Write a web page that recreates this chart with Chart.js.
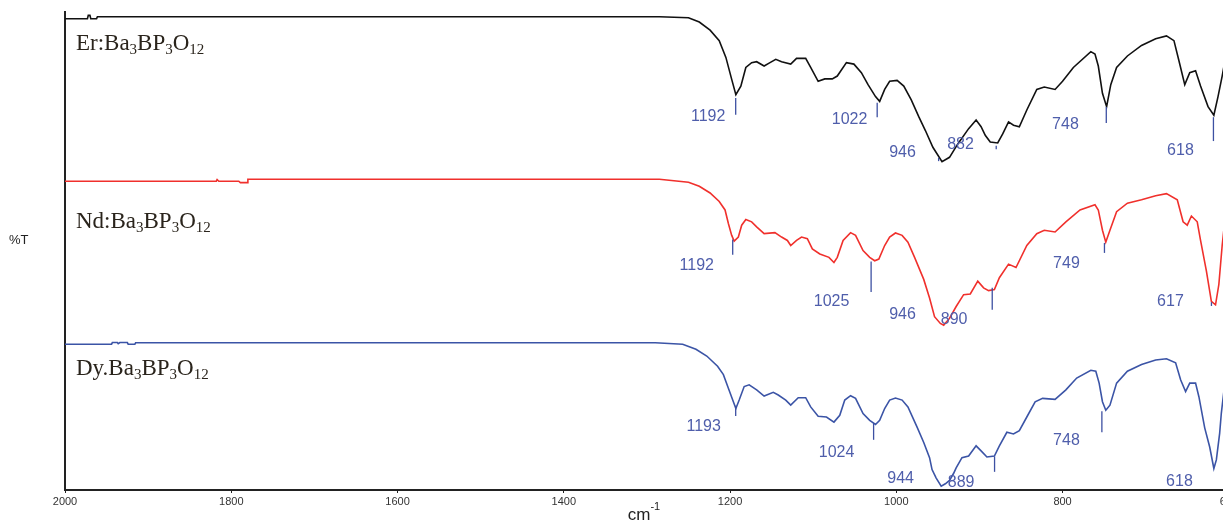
<!DOCTYPE html>
<html>
<head>
<meta charset="utf-8">
<script src="https://cdn.jsdelivr.net/npm/chart.js@4.4.1/dist/chart.umd.min.js"></script>
<style>
html,body{margin:0;padding:0;background:#fff;}
#wrap{width:1223px;height:521px;position:relative;}
</style>
</head>
<body>
<div id="wrap"><canvas id="c" width="1223" height="521"></canvas></div>
<script>
// ---- data (wavenumber cm-1, %T offset units) ----
const xTicks = [2000,1800,1600,1400,1200,1000,800,600];

const wnEr = [2000,1973,1972,1970,1969,1962,1961,1285,1250,1237,1224,1213,1205,1198,1193,1187,1181,1174,1168,1159,1153,1145,1138,1127,1120,1109,1103,1094,1086,1077,1071,1060,1051,1042,1034,1025,1020,1014,1008,999,991,982,973,965,956,945,936,926,913,904,898,893,887,878,872,865,859,852,843,831,822,809,800,787,766,761,757,752,747,742,735,722,705,688,675,666,660,653,647,640,634,625,618,613,608,605];
const tEr = [98.6,98.6,99.3,99.3,98.6,98.6,99.0,99.0,98.8,97.9,96.2,94.0,90.5,85.9,82.7,84.5,88.4,89.4,89.6,88.7,89.3,90.1,89.6,89.1,90.3,90.3,88.4,85.5,86.0,86.0,86.6,89.4,89.1,87.3,84.8,82.3,81.3,83.8,85.5,85.7,84.5,81.6,78.1,75.2,71.7,68.7,69.6,72.4,75.6,77.4,76.0,74.2,72.8,72.6,74.5,77.0,76.3,76.0,79.5,83.8,84.3,83.8,85.5,88.4,91.7,91.2,88.7,83.0,80.2,84.8,88.4,90.8,93.0,94.4,95.0,94.0,89.8,84.8,87.3,87.7,84.5,80.2,78.4,82.3,86.6,89.5];

const wnNd = [2000,1818,1817,1815,1791,1789,1781,1780,1285,1250,1237,1224,1213,1206,1202,1198,1195,1190,1186,1181,1174,1168,1159,1146,1138,1131,1127,1120,1114,1107,1101,1092,1081,1075,1071,1064,1055,1049,1040,1032,1026,1021,1014,1008,1001,993,986,978,967,960,954,947,943,936,928,919,911,902,895,889,882,876,865,856,843,831,822,809,796,779,761,757,752,748,743,735,722,705,688,675,662,655,650,645,638,634,627,621,616,612,608,605];
const tNd = [64.6,64.6,64.95,64.6,64.6,64.3,64.3,65.0,65.0,64.4,63.55,62.14,60.36,58.59,55.76,53.27,52.07,52.92,55.4,56.6,56.1,55.05,53.63,53.84,52.92,52.21,51.15,52.21,52.92,52.57,50.44,49.38,48.67,47.6,48.67,52.21,53.84,53.27,50.08,48.67,47.96,48.31,51.15,52.92,53.77,53.27,51.86,48.67,44.06,40.16,36.26,34.84,34.49,35.9,38.39,40.87,41.01,43.7,42.29,41.72,41.93,44.41,47.25,46.54,51.15,53.63,54.34,53.98,56.11,58.59,59.66,58.59,54.34,51.86,54.34,58.24,60.01,60.72,61.57,62.0,60.72,56.11,55.4,57.32,56.11,52.21,45.83,39.45,38.74,42.99,51.15,56.0];

const wnDy = [2000,1944,1943,1937,1936,1934,1925,1924,1916,1915,1290,1257,1241,1228,1215,1208,1202,1196,1193,1189,1183,1177,1168,1159,1148,1142,1133,1127,1118,1109,1103,1094,1084,1075,1068,1062,1055,1049,1040,1032,1025,1020,1014,1008,1001,993,986,975,967,960,957,952,946,941,936,931,928,921,913,904,898,891,882,876,867,859,852,843,833,824,809,796,783,766,760,756,752,748,743,735,722,705,688,675,664,658,652,647,640,636,629,623,618,615,611,609,605];
const tDy = [30.5,30.5,30.85,30.85,30.6,30.85,30.85,30.5,30.5,30.8,30.8,30.5,29.45,28.03,25.9,24.13,21.29,18.46,17.04,18.81,21.65,22.0,20.94,19.66,20.44,19.87,18.81,17.75,19.31,19.31,17.39,15.41,15.27,14.2,15.62,18.81,19.73,19.17,15.98,14.56,13.71,14.56,17.04,18.81,19.24,18.81,17.39,13.14,9.95,6.76,4.28,2.5,0.8,1.3,2.0,3.5,4.63,6.76,7.11,9.24,8.18,6.9,7.11,9.24,12.08,11.72,12.43,15.27,18.46,19.17,18.95,20.94,23.42,25.05,24.84,22.36,18.46,16.68,17.75,22.36,24.84,26.26,27.18,27.46,26.61,23.07,20.58,22.36,22.36,19.52,13.0,9.0,4.5,6.3,11.9,16.1,22.0];

const peaksEr = ['1192','1022','946','882','748','618'];
const peaksNd = ['1192','1025','946','890','749','617'];
const peaksDy = ['1193','1024','944','889','748','618'];

const sampleNames = [
  [['Er:Ba',0],['3',1],['BP',0],['3',1],['O',0],['12',1]],
  [['Nd:Ba',0],['3',1],['BP',0],['3',1],['O',0],['12',1]],
  [['Dy.Ba',0],['3',1],['BP',0],['3',1],['O',0],['12',1]]
];

// ---- annotation placement (data coords: label x, label y, tick x, tick top, tick bottom) ----
const posEr = [[1226.3,78.2,1193.2,82.0,78.5],[1056.2,77.4,1023,81.0,78.0],[992.5,70.6,949.1,69.5,68.8],[922.7,72.2,879.8,72.0,71.3],[796.5,76.4,747.4,80.1,76.8],[658.2,71.1,618.5,78.0,73.0]];
const posNd = [[1240,46.9,1196.8,52.4,49.2],[1077.8,39.4,1030.3,47.8,41.4],[992.5,36.6,null],[930.5,35.6,884.6,42.3,37.7],[795.3,47.3,749.6,51.7,49.6],[670.2,39.4,620.9,39.3,38.5]];
const posDy = [[1231.7,13.2,1193.2,17.6,15.5],[1071.8,7.9,1027.3,14.0,10.5],[994.8,2.3,null],[922.0,1.6,881.8,7.0,3.8],[795.3,10.25,752.7,16.5,12.1],[659.4,1.7,null]];
const namePos = [[1986.8,92.05],[1986.8,54.8],[1986.8,24.06]];

const toXY = (xs, ys) => xs.map((x,i)=>({x:x, y:ys[i]}));

const annotPlugin = {
  id:'annot',
  afterDraw(chart){
    const ctx = chart.ctx, xs = chart.scales.x, ys = chart.scales.y, ca = chart.chartArea;
    ctx.save();
    // peak labels
    const groups = [[peaksEr,posEr],[peaksNd,posNd],[peaksDy,posDy]];
    ctx.font = '16px "Liberation Sans", Arial, sans-serif';
    ctx.textAlign = 'center'; ctx.textBaseline = 'middle';
    groups.forEach(([txt,pos])=>{
      txt.forEach((t,i)=>{
        const p = pos[i];
        ctx.fillStyle = '#4f5eab';
        ctx.fillText(t, xs.getPixelForValue(p[0]), ys.getPixelForValue(p[1]));
        if(p[2]!==null && p[2]!==undefined){
          ctx.strokeStyle = '#3d50a2'; ctx.lineWidth = 1.3;
          ctx.beginPath();
          const px = xs.getPixelForValue(p[2]);
          ctx.moveTo(px, ys.getPixelForValue(p[3]));
          ctx.lineTo(px, ys.getPixelForValue(p[4]));
          ctx.stroke();
        }
      });
    });
    // sample names
    ctx.textAlign = 'left'; ctx.textBaseline = 'alphabetic';
    ctx.fillStyle = '#2a241c';
    sampleNames.forEach((parts,k)=>{
      let x = xs.getPixelForValue(namePos[k][0]);
      const y = ys.getPixelForValue(namePos[k][1]);
      parts.forEach(([s,sub])=>{
        ctx.font = sub ? '15px "Liberation Serif", "Times New Roman", serif' : '23px "Liberation Serif", "Times New Roman", serif';
        ctx.fillText(s, x, y + (sub?4:0));
        x += ctx.measureText(s).width;
      });
    });
    // y label
    ctx.fillStyle = '#222';
    ctx.font = '13px "Liberation Sans", Arial, sans-serif';
    ctx.textAlign = 'left'; ctx.textBaseline = 'middle';
    ctx.fillText('%T', 9, (ca.top+ca.bottom)/2 - 11);
    // x title cm-1
    const cx = (ca.left+ca.right)/2;
    ctx.font = '17px "Liberation Sans", Arial, sans-serif';
    ctx.textBaseline = 'alphabetic';
    const w1 = ctx.measureText('cm').width;
    ctx.font = '11px "Liberation Sans", Arial, sans-serif';
    const w2 = ctx.measureText('-1').width;
    const sx = cx - (w1+w2)/2;
    ctx.font = '17px "Liberation Sans", Arial, sans-serif';
    ctx.fillText('cm', sx, 520);
    ctx.font = '11px "Liberation Sans", Arial, sans-serif';
    ctx.fillText('-1', sx + w1, 510);
    ctx.restore();
  }
};

new Chart(document.getElementById('c'), {
  type:'line',
  data:{
    datasets:[
      {label:'Er', data:toXY(wnEr,tEr), borderColor:'#111', borderWidth:1.6},
      {label:'Nd', data:toXY(wnNd,tNd), borderColor:'#f0302c', borderWidth:1.6},
      {label:'Dy', data:toXY(wnDy,tDy), borderColor:'#3b54a6', borderWidth:1.6}
    ]
  },
  options:{
    responsive:false, animation:false, devicePixelRatio:1,
    layout:{padding:{left:65, top:12, right:0, bottom:0}},
    elements:{point:{radius:0}, line:{tension:0}},
    plugins:{legend:{display:false}, tooltip:{enabled:false}},
    scales:{
      x:{
        type:'linear', reverse:true, min:607, max:2000,
        afterBuildTicks(s){ s.ticks = xTicks.map(v=>({value:v})); },
        afterFit(s){ s.height = 31; s.paddingLeft = 0; s.paddingRight = 0; },
        ticks:{autoSkip:false, maxRotation:0, padding:2, color:'#333',
          font:{family:'"Liberation Sans", Arial, sans-serif', size:11},
          callback:(v)=>String(v)},
        grid:{display:true, drawOnChartArea:false, drawTicks:true, tickLength:3, color:'#222', lineWidth:1},
        border:{display:true, color:'#222', width:2}
      },
      y:{
        type:'linear', min:0, max:100,
        ticks:{display:false},
        grid:{display:false},
        border:{display:true, color:'#222', width:2},
        afterFit(s){ s.width = 0; }
      }
    }
  },
  plugins:[annotPlugin]
});
</script>
</body>
</html>
